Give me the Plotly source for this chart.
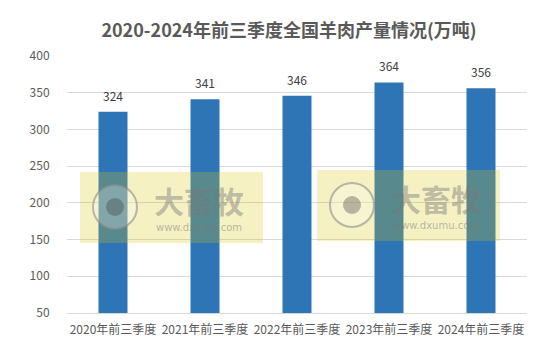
import plotly.graph_objects as go

categories = ["2020年前三季度", "2021年前三季度", "2022年前三季度", "2023年前三季度", "2024年前三季度"]
values = [324, 341, 346, 364, 356]
y_ticks = [50, 100, 150, 200, 250, 300, 350, 400]
title_text = "2020-2024年前三季度全国羊肉产量情况(万吨)"

FONT = "Noto Sans CJK SC, Noto Sans, sans-serif"
W, H = 552, 351
L, R, T, B = 67, 25, 56, 38
PW, PH = W - L - R, H - T - B

def px(x):
    return (x - L) / PW

def py(y):
    return (H - B - y) / PH

fig = go.Figure()
fig.add_trace(go.Bar(
    x=categories, y=values, width=0.315,
    marker=dict(color="#2E75B6", line=dict(width=0)),
    hoverinfo="skip",
))

annotations = []
for c, v in zip(categories, values):
    annotations.append(dict(x=c, y=v, xref="x", yref="y", text=str(v), showarrow=False,
                            yanchor="bottom", yshift=6,
                            font=dict(family=FONT, size=12, color="#404040")))

shapes = []
# watermark overlays (decorative)
for (x0, y0, cx, cy, tx, ty) in [(80, 172, 115, 207, 199, 204), (317, 170, 352, 205, 436, 202)]:
    shapes.append(dict(type="rect", xref="paper", yref="paper", layer="above",
                       x0=px(x0), x1=px(x0 + 183), y0=py(y0 + 71), y1=py(y0),
                       fillcolor="rgba(216,201,14,0.25)", line=dict(width=0)))
    shapes.append(dict(type="circle", xref="paper", yref="paper", layer="above",
                       x0=px(cx - 22), x1=px(cx + 22), y0=py(cy + 22), y1=py(cy - 22),
                       fillcolor="rgba(255,255,255,0.25)", line=dict(color="rgba(140,140,140,0.6)", width=2)))
    shapes.append(dict(type="circle", xref="paper", yref="paper", layer="above",
                       x0=px(cx - 9), x1=px(cx + 9), y0=py(cy + 9), y1=py(cy - 9),
                       fillcolor="rgba(60,60,60,0.35)", line=dict(width=0)))
    annotations.append(dict(x=px(tx), y=py(ty - 4), xref="paper", yref="paper", text="<b>大畜牧</b>",
                            showarrow=False, xanchor="center", yanchor="middle",
                            font=dict(family=FONT, size=30, color="rgba(120,120,120,0.45)")))
    annotations.append(dict(x=px(tx), y=py(ty + 23), xref="paper", yref="paper", text="www.dxumu.com",
                            showarrow=False, xanchor="center", yanchor="middle",
                            font=dict(family="DejaVu Sans, sans-serif", size=10, color="rgba(120,120,120,0.5)")))

fig.update_layout(
    width=W, height=H,
    margin=dict(l=L, r=R, t=T, b=B, pad=0),
    paper_bgcolor="white", plot_bgcolor="white",
    showlegend=False,
    title=dict(text="<b>" + title_text + "</b>", x=289 / W, xanchor="center", y=1 - 31 / H, yanchor="middle",
               font=dict(family=FONT, size=18, color="#595959")),
    xaxis=dict(showgrid=False, showline=True, linecolor="#D9D9D9", linewidth=1,
               ticks="outside", ticklen=6, tickcolor="rgba(0,0,0,0)",
               tickfont=dict(family=FONT, size=12, color="#595959"), fixedrange=True),
    yaxis=dict(range=[50, 400], tickvals=y_ticks, showgrid=True, gridcolor="#D9D9D9", gridwidth=1,
               showline=False, zeroline=False, ticks="outside", ticklen=14, tickcolor="rgba(0,0,0,0)",
               tickfont=dict(family=FONT, size=12, color="#595959"), fixedrange=True),
    annotations=annotations,
    shapes=shapes,
    bargap=0.5,
)

fig.write_html("out.html")
